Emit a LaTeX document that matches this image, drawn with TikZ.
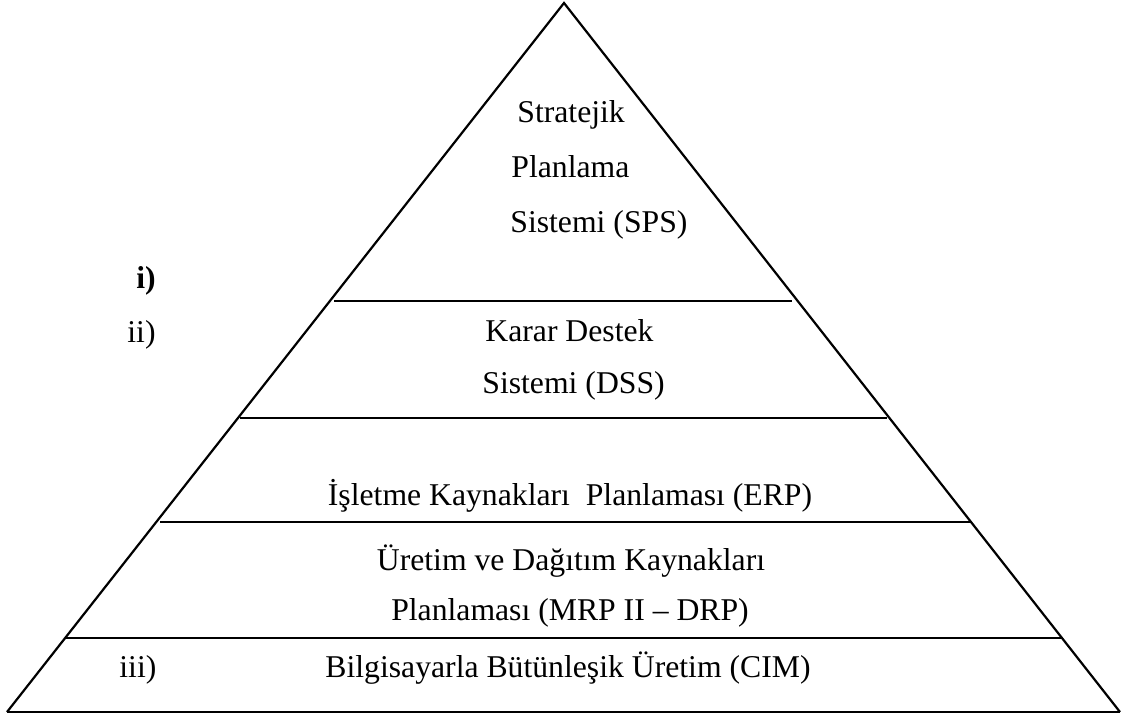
\documentclass[tikz,border=0pt]{standalone}
\usepackage{fontspec}
\setmainfont{Liberation Serif}
\begin{document}
\begin{tikzpicture}[x=0.5pt,y=-0.5pt,
  side/.style={line width=1.1pt, line join=miter},
  tier/.style={line width=1.4pt},
  lbl/.style={inner sep=0pt, font=\fontsize{15.85}{19}\selectfont},
  lw/.style={lbl, anchor=base west},
  lc/.style={lbl, anchor=base}]
  \useasboundingbox (0,0) rectangle (1123,718);

  % pyramid outline
  \coordinate (apex) at (564,3);
  \coordinate (bl) at (7,712);
  \coordinate (br) at (1120,712);
  \draw[side] (bl) -- (apex) -- (br);
  \draw[tier] (bl) -- (br);

  % tier separators
  \coordinate (s1l) at (334,301); \coordinate (s1r) at (792,301);
  \coordinate (s2l) at (240,418); \coordinate (s2r) at (887,418);
  \coordinate (s3l) at (160,522); \coordinate (s3r) at (970,522);
  \coordinate (s4l) at (65,638);  \coordinate (s4r) at (1062,638);
  \draw[tier] (s1l) -- (s1r);
  \draw[tier] (s2l) -- (s2r);
  \draw[tier] (s3l) -- (s3r);
  \draw[tier] (s4l) -- (s4r);

  % top tier
  \node[lw] (sps1) at (517,122) {Stratejik};
  \node[lw] (sps2) at (511,177) {Planlama};
  \node[lw] (sps3) at (510,232) {Sistemi (SPS)};

  % side markers
  \node[lw] (m1) at (136,288) {\textbf{i)}};
  \node[lw] (m2) at (127,342) {ii)};
  \node[lw] (m3) at (119,677) {iii)};

  % decision support tier
  \node[lw] (dss1) at (485,341) {Karar Destek};
  \node[lw] (dss2) at (482,393) {Sistemi (DSS)};

  % lower tiers
  \node[lc] (erp) at (570,505) {İşletme Kaynakları\ \ Planlaması (ERP)};
  \node[lc] (mrp1) at (571,570) {Üretim ve Dağıtım Kaynakları};
  \node[lc] (mrp2) at (570,620) {Planlaması (MRP II – DRP)};
  \node[lc] (cim) at (568,677) {Bilgisayarla Bütünleşik Üretim (CIM)};
\end{tikzpicture}
\end{document}
